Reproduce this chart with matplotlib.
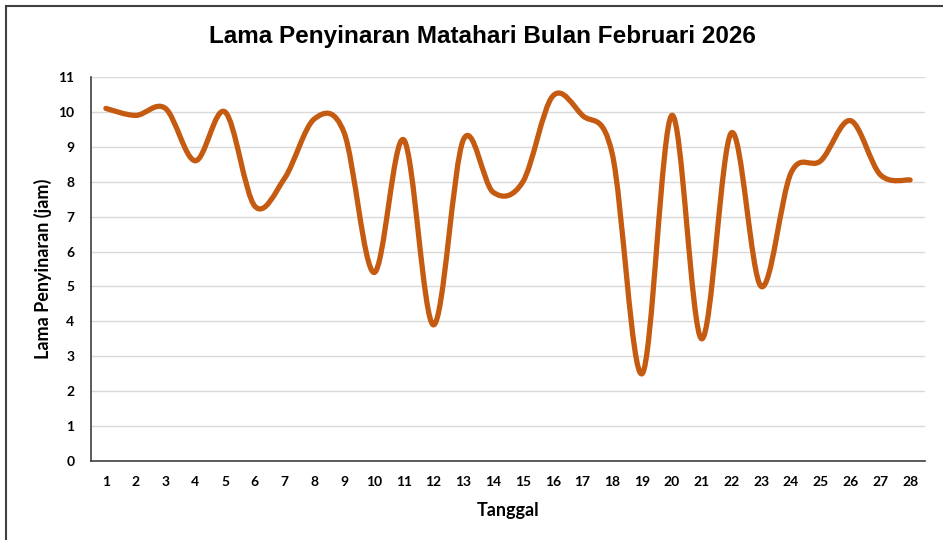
import matplotlib
matplotlib.use("Agg")
import matplotlib.pyplot as plt
import numpy as np
from matplotlib.path import Path
from matplotlib.patches import PathPatch, Rectangle

days = list(range(1, 29))
hours = [10.1, 9.9, 10.1, 8.6, 10.0, 7.3, 8.1, 9.8, 9.4, 5.4, 9.2, 3.9, 9.2, 7.7,
         8.0, 10.45, 9.9, 8.8, 2.5, 9.9, 3.5, 9.4, 5.0, 8.25, 8.6, 9.75, 8.2, 8.05]
yticks = list(range(0, 12))

title = "Lama Penyinaran Matahari Bulan Februari 2026"
xlabel = "Tanggal"
ylabel = "Lama Penyinaran (jam)"

fig = plt.figure(figsize=(9.43, 5.4), dpi=100)
fig.patch.set_facecolor("white")
ax = fig.add_axes([91/943, 79/540, (925-91)/943, (461-77)/540])

# Smooth curve (Excel-like Bezier smoothing)
x = np.array(days, dtype=float)
y = np.array(hours, dtype=float)
n = len(x)
verts = [(x[0], y[0])]
codes = [Path.MOVETO]
for i in range(n - 1):
    p0 = np.array([x[max(i-1, 0)], y[max(i-1, 0)]])
    p1 = np.array([x[i], y[i]])
    p2 = np.array([x[i+1], y[i+1]])
    p3 = np.array([x[min(i+2, n-1)], y[min(i+2, n-1)]])
    c1 = p1 + (p2 - p0) / 6.0
    c2 = p2 - (p3 - p1) / 6.0
    verts += [tuple(c1), tuple(c2), tuple(p2)]
    codes += [Path.CURVE4] * 3
path = Path(verts, codes)
ax.add_patch(PathPatch(path, facecolor="none", edgecolor="#C55A11", lw=3.8,
                       capstyle="round", joinstyle="round", zorder=3))

ax.set_xlim(0.5, 28.5)
ax.set_ylim(0, 11)
ax.set_xticks(days)
ax.set_yticks(yticks)
ax.set_xticklabels([str(d) for d in days], fontfamily="Lato", fontweight="bold", fontsize=10)
ax.set_yticklabels([str(t) for t in yticks], fontfamily="Lato", fontweight="bold", fontsize=10)
ax.tick_params(axis="x", length=0, pad=11)
ax.tick_params(axis="y", length=0, pad=12)
ax.grid(axis="y", color="#d9d9d9", lw=1)
ax.set_axisbelow(True)
for s in ["top", "right"]:
    ax.spines[s].set_visible(False)
for s in ["left", "bottom"]:
    ax.spines[s].set_color("#404040")
    ax.spines[s].set_linewidth(1.2)

ax.set_xlabel(xlabel, fontfamily="Lato", fontweight="bold", fontsize=13, labelpad=10)
ax.set_ylabel(ylabel, fontfamily="Lato", fontweight="bold", fontsize=13)
ax.yaxis.set_label_coords(-39/834, 0.5)
fig.text(482/943, 1 - 37/540, title, ha="center", va="center",
         fontfamily="Liberation Sans", fontweight="bold", fontsize=17.5)

fig.patches.append(Rectangle((6/943, -0.1), 1.2, (540-6)/540 + 0.1,
                             transform=fig.transFigure, facecolor="none",
                             edgecolor="#404040", lw=1.5))

fig.savefig("out.png", dpi=100)
